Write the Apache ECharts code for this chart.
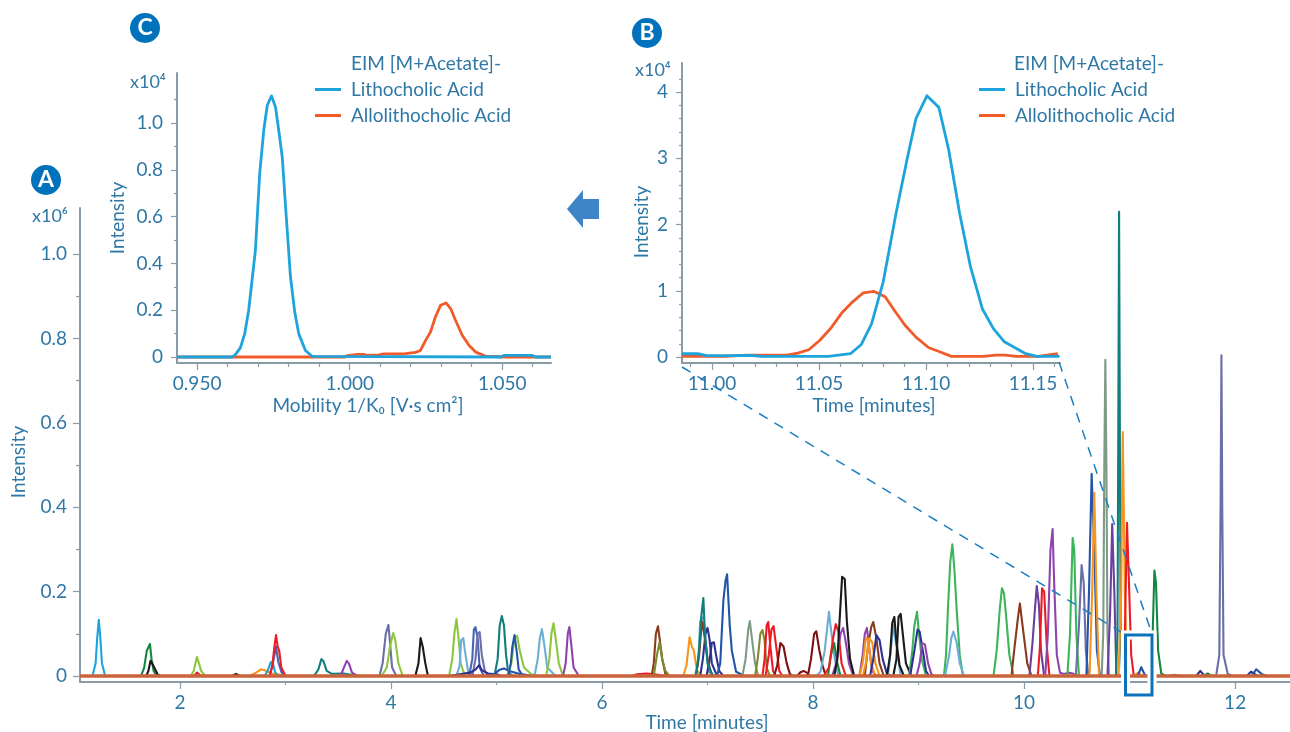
<!DOCTYPE html>
<html><head><meta charset="utf-8">
<style>html,body{margin:0;padding:0;background:#fff}#c{width:1290px;height:732px}</style>
<script src="https://cdn.jsdelivr.net/npm/echarts@6/dist/echarts.min.js"></script>
</head><body><div id="c"></div>
<script>
// ---------- colours ----------
const LBLUE='#6baed6',LIME='#8cc63f',TEAL='#0f7f7b',NAVY='#2e3192',BLUE='#2255aa',MBLUE='#4a62b4',SLATE='#6a6fa8',
PURPLE='#8e44ad',PURP2='#6a3fa0',DGREEN='#13873f',GREEN='#3cb55a',RED='#ed1c24',DRED='#7b1113',BROWN='#8b3a1e',
OLIVE='#7d8a2e',ORANGE='#f7941d',GGREEN='#7f9a85',BLACK='#1a1a1a',SKY='#1ea4dc';

// ---------- panel A: chromatogram peaks, [minutes, intensity x10^6] ----------
const p01=[[1.17,0],[1.20,.03],[1.215,.09],[1.23,.133],[1.245,.09],[1.26,.03],[1.29,0]];
const p02=[[1.63,0],[1.66,.02],[1.685,.06],[1.70,.064],[1.715,.076],[1.73,.04],[1.75,.012],[1.78,0]];
const p03=[[1.68,0],[1.70,.012],[1.72,.036],[1.74,.028],[1.76,.018],[1.79,.003],[1.82,0]];
const p04=[[2.10,0],[2.13,.012],[2.16,.045],[2.18,.03],[2.20,.012],[2.24,0]];
const p05=[[2.13,0],[2.16,.008],[2.2,0]];
const p06=[[2.49,0],[2.53,.005],[2.57,0]];
const p07=[[2.66,0],[2.72,.008],[2.77,.016],[2.82,.012],[2.87,.006],[2.95,.003],[3.0,0]];
const p08=[[2.80,0],[2.83,.012],[2.86,.033],[2.88,.03],[2.90,.01],[2.93,0]];
const p09=[[2.85,0],[2.88,.03],[2.91,.07],[2.93,.035],[2.96,.01],[2.99,0]];
const p10=[[2.85,0],[2.875,.025],[2.895,.07],[2.91,.097],[2.925,.07],[2.94,.06],[2.96,.02],[3,0]];
const p11=[[3.27,0],[3.31,.015],[3.34,.04],[3.36,.035],[3.39,.012],[3.44,.005],[3.55,.006],[3.65,.002],[3.7,0]];
const p12=[[3.52,0],[3.55,.018],[3.58,.036],[3.60,.03],[3.63,.008],[3.68,0]];
const p13=[[3.89,0],[3.92,.03],[3.95,.1],[3.975,.121],[3.99,.08],[4.01,.02],[4.05,0]];
const p14=[[3.91,0],[3.96,.02],[3.99,.07],[4.02,.102],[4.04,.085],[4.07,.03],[4.11,0]];
const p15=[[4.23,0],[4.26,.03],[4.28,.09],[4.30,.07],[4.325,.03],[4.35,0]];
const p16=[[4.55,0],[4.58,.04],[4.60,.1],[4.62,.135],[4.64,.09],[4.66,.03],[4.70,0]];
const p17=[[4.62,0],[4.65,.025],[4.665,.085],[4.685,.09],[4.70,.06],[4.73,.012],[4.78,0]];
const p18=[[4.74,0],[4.77,.04],[4.785,.11],[4.80,.116],[4.82,.09],[4.84,.02],[4.88,0]];
const p19=[[4.77,0],[4.80,.04],[4.82,.1],[4.84,.104],[4.86,.05],[4.89,.01],[4.93,0]];
const p20=[[4.55,0],[4.65,.004],[4.75,.008],[4.80,.015],[4.835,.026],[4.86,.014],[4.92,.006],[5.0,.004],[5.05,0]];
const p21=[[4.98,0],[5.01,.04],[5.03,.12],[5.05,.142],[5.07,.12],[5.09,.05],[5.11,.01],[5.15,0]];
const p22=[[4.9,0],[4.98,.005],[5.03,.015],[5.07,.018],[5.12,.012],[5.22,.005],[5.35,0]];
const p23=[[5.1,0],[5.14,.03],[5.17,.09],[5.195,.095],[5.22,.06],[5.26,.02],[5.33,.004],[5.38,0]];
const p24=[[5.11,0],[5.135,.03],[5.15,.07],[5.17,.097],[5.19,.06],[5.21,.015],[5.25,0]];
const p25=[[5.36,0],[5.39,.04],[5.41,.09],[5.43,.111],[5.455,.07],[5.48,.02],[5.56,0]];
const p26=[[5.47,0],[5.50,.04],[5.52,.1],[5.54,.125],[5.56,.09],[5.59,.03],[5.63,0]];
const p27=[[5.63,0],[5.655,.03],[5.675,.1],[5.69,.116],[5.71,.07],[5.73,.02],[5.78,0]];
const p28=[[6.28,0],[6.33,.004],[6.42,.006],[6.5,.004],[6.6,0]];
const p29=[[6.47,0],[6.49,.03],[6.51,.1],[6.53,.118],[6.55,.08],[6.57,.04],[6.6,.005],[6.63,0]];
const p30=[[6.49,0],[6.52,.05],[6.545,.08],[6.57,.04],[6.6,.012],[6.64,0]];
const p31=[[6.77,0],[6.80,.025],[6.83,.092],[6.85,.07],[6.87,.06],[6.90,.012],[6.95,0]];
const p32=[[6.88,0],[6.91,.03],[6.93,.13],[6.96,.14],[6.98,.08],[7.01,.01],[7.05,0]];
const p33=[[6.93,0],[6.955,.04],[6.98,.1],[7.0,.114],[7.02,.085],[7.04,.03],[7.09,0]];
const p34=[[6.99,0],[7.02,.04],[7.04,.078],[7.06,.08],[7.08,.05],[7.11,.012],[7.15,0]];
const p35=[[6.89,0],[6.92,.05],[6.94,.11],[6.95,.128],[6.98,.08],[7.0,.04],[7.03,.01],[7.06,0]];
const p36=[[6.89,0],[6.92,.06],[6.94,.14],[6.96,.185],[6.975,.1],[7.0,.03],[7.05,0]];
const p37=[[7.09,0],[7.12,.03],[7.15,.18],[7.17,.225],[7.185,.241],[7.21,.12],[7.23,.06],[7.27,.01],[7.35,0]];
const p38=[[7.33,0],[7.36,.04],[7.385,.11],[7.40,.13],[7.42,.09],[7.45,.03],[7.48,0]];
const p39=[[7.45,0],[7.475,.04],[7.50,.1],[7.52,.109],[7.54,.085],[7.56,.02],[7.59,0]];
const p40=[[7.52,0],[7.54,.04],[7.56,.12],[7.575,.128],[7.595,.07],[7.62,.012],[7.65,0]];
const p41=[[7.55,0],[7.58,.05],[7.605,.11],[7.625,.118],[7.65,.07],[7.68,.012],[7.71,0]];
const p42=[[7.63,0],[7.66,.025],[7.69,.078],[7.72,.07],[7.75,.03],[7.78,.005],[7.81,0]];
const p43=[[7.85,0],[7.88,.009],[7.91,.012],[7.94,.008],[7.97,0]];
const p44=[[7.95,0],[7.98,.04],[8.01,.1],[8.03,.106],[8.06,.06],[8.09,.025],[8.12,0]];
const p45=[[8.03,0],[8.07,.01],[8.11,.06],[8.13,.105],[8.15,.152],[8.17,.11],[8.2,.05],[8.23,.008],[8.26,0]];
const p46=[[8.14,0],[8.17,.05],[8.2,.078],[8.23,.03],[8.26,0]];
const p47=[[8.1,0],[8.15,.02],[8.19,.09],[8.215,.123],[8.24,.105],[8.27,.03],[8.31,0]];
const p48=[[8.18,0],[8.22,.03],[8.26,.1],[8.285,.114],[8.31,.08],[8.34,.03],[8.38,0]];
const p49=[[8.2,0],[8.23,.04],[8.26,.17],[8.275,.235],[8.3,.23],[8.32,.13],[8.35,.04],[8.39,0]];
const p50=[[8.44,0],[8.47,.05],[8.49,.1],[8.51,.114],[8.53,.07],[8.56,.012],[8.6,0]];
const p51=[[8.49,0],[8.52,.07],[8.55,.115],[8.57,.128],[8.6,.09],[8.63,.03],[8.67,0]];
const p52=[[8.44,0],[8.47,.03],[8.5,.09],[8.52,.085],[8.55,.03],[8.59,0]];
const p53=[[8.47,0],[8.5,.03],[8.53,.09],[8.56,.08],[8.59,.03],[8.63,0]];
const p54=[[8.54,0],[8.57,.04],[8.6,.097],[8.63,.085],[8.66,.04],[8.7,.005],[8.74,0]];
const p55=[[8.71,0],[8.74,.07],[8.76,.12],[8.79,.07],[8.83,0]];
const p56=[[8.7,0],[8.73,.05],[8.75,.125],[8.77,.14],[8.79,.08],[8.82,.025],[8.86,0]];
const p57=[[8.76,0],[8.79,.04],[8.81,.14],[8.83,.147],[8.85,.1],[8.88,.03],[8.93,0]];
const p58=[[8.91,0],[8.94,.06],[8.96,.12],[8.985,.152],[9.0,.11],[9.03,.04],[9.07,0]];
const p59=[[8.92,0],[8.96,.06],[8.99,.11],[9.01,.105],[9.04,.06],[9.07,.012],[9.1,0]];
const p60=[[8.98,0],[9.01,.03],[9.035,.078],[9.06,.075],[9.09,.03],[9.12,.005],[9.15,0]];
const p61=[[9.24,0],[9.26,.05],[9.28,.17],[9.30,.27],[9.32,.312],[9.34,.25],[9.36,.16],[9.39,.05],[9.42,0]];
const p62=[[9.25,0],[9.29,.05],[9.31,.09],[9.33,.105],[9.36,.08],[9.39,.03],[9.43,0]];
const p63=[[9.71,0],[9.74,.06],[9.77,.16],[9.79,.208],[9.81,.195],[9.83,.14],[9.86,.05],[9.9,0]];
const p64=[[9.88,0],[9.91,.07],[9.94,.135],[9.96,.172],[9.98,.13],[10.0,.09],[10.03,.03],[10.07,0]];
const p65=[[10.05,0],[10.08,.08],[10.10,.15],[10.12,.213],[10.14,.17],[10.16,.06],[10.19,0]];
const p66=[[10.13,0],[10.15,.07],[10.17,.208],[10.19,.2],[10.215,.07],[10.24,0]];
const p67=[[10.2,0],[10.225,.1],[10.25,.3],[10.27,.348],[10.285,.22],[10.31,.05],[10.34,.008],[10.38,.005],[10.42,.008],[10.46,.006],[10.5,0]];
const p68=[[10.41,0],[10.435,.1],[10.46,.327],[10.475,.3],[10.495,.1],[10.52,0]];
const p69=[[10.49,0],[10.52,.12],[10.545,.263],[10.565,.22],[10.585,.06],[10.61,0]];
const p70=[[10.59,0],[10.615,.2],[10.64,.479],[10.665,.3],[10.69,.06],[10.72,0]];
const p71=[[10.62,0],[10.645,.2],[10.665,.434],[10.685,.2],[10.71,0]];
const p72=[[10.735,0],[10.75,.1],[10.76,.5],[10.77,.749],[10.78,.5],[10.79,.1],[10.805,0]];
const p73=[[10.79,0],[10.815,.15],[10.835,.36],[10.855,.2],[10.875,0]];
const p74=[[10.87,0],[10.885,.1],[10.893,.6],[10.90,1.1],[10.907,.6],[10.915,.1],[10.93,0]];
const p75=[[10.895,0],[10.92,.2],[10.935,.578],[10.955,.2],[10.975,0]];
const p76=[[10.93,0],[10.955,.1],[10.975,.363],[10.99,.25],[11.015,.05],[11.04,0]];
const p77=[[11.04,0],[11.08,.008],[11.12,0]];
const p78=[[11.07,0],[11.09,.008],[11.11,.021],[11.13,.01],[11.15,0]];
const p79=[[11.19,0],[11.215,.07],[11.235,.25],[11.25,.22],[11.27,.06],[11.3,.006],[11.34,0]];
const p80=[[11.36,0],[11.42,.003],[11.5,0]];
const p81=[[11.63,0],[11.67,.012],[11.71,0]];
const p82=[[11.7,0],[11.74,.006],[11.78,0]];
const p83=[[11.82,0],[11.85,.05],[11.862,.4],[11.87,.76],[11.878,.4],[11.89,.05],[11.93,.005],[11.98,0]];
const p84=[[12.11,0],[12.15,.01],[12.18,.006],[12.21,0]];
const p85=[[12.16,0],[12.2,.016],[12.25,.005],[12.3,0]];
const baseline=[[1.052,0],[12.52,0]];

const peaksA=[[p01,SKY],[p02,DGREEN],[p03,BLACK],[p04,LIME],[p05,RED],[p06,BLACK],[p07,ORANGE],[p08,SKY],[p09,MBLUE],[p10,RED],
[p11,TEAL],[p12,PURPLE],[p13,SLATE],[p14,LIME],[p15,BLACK],[p16,LIME],[p17,LBLUE],[p18,MBLUE],[p19,SLATE],[p20,NAVY],
[p21,TEAL],[p22,BLUE],[p23,LIME],[p24,BLUE],[p25,LBLUE],[p26,LIME],[p27,PURPLE],[p28,RED],[p29,BROWN],[p30,OLIVE],
[p31,ORANGE],[p32,LBLUE],[p33,NAVY],[p34,NAVY],[p35,BROWN],[p36,TEAL],[p37,BLUE],[p38,GGREEN],[p39,OLIVE],[p40,RED],
[p41,RED],[p42,DRED],[p43,DRED],[p44,DRED],[p45,LBLUE],[p46,DGREEN],[p47,RED],[p48,PURPLE],[p49,BLACK],[p50,PURPLE],
[p51,BROWN],[p52,ORANGE],[p53,ORANGE],[p54,NAVY],[p55,LBLUE],[p56,BLACK],[p57,BLACK],[p58,GREEN],[p59,NAVY],[p60,PURPLE],
[p61,GREEN],[p62,LBLUE],[p63,GREEN],[p64,BROWN],[p65,PURP2],[p66,RED],[p67,PURPLE],[p68,GREEN],[p69,SLATE],[p70,BLUE],
[p71,ORANGE],[p72,GGREEN],[p73,PURP2],[p74,TEAL],[p75,ORANGE],[p76,RED],[p77,ORANGE],[p78,BLUE],[p79,DGREEN],[p80,GGREEN],
[p81,NAVY],[p82,DGREEN],[p83,SLATE],[p84,NAVY],[p85,BLUE]];

// ---------- panel B: EIM traces, [minutes, intensity x10^4] ----------
const bLitho=[[10.986,.05],[10.9934,.05],[10.9976,.02],[11.0078,.02],[11.018,.025],[11.0231,.01],[11.0384,.01],[11.0545,.01],[11.0647,.05],[11.0698,.19],[11.0746,.504],[11.08,1.135],[11.086,2.17],[11.0911,2.98],[11.0953,3.6],[11.1004,3.945],[11.106,3.77],[11.1106,3.13],[11.1157,2.17],[11.1208,1.36],[11.1263,.73],[11.1315,.43],[11.1366,.23],[11.1466,.05],[11.1519,.01],[11.1624,.01]];
const bAllo=[[10.986,.01],[11.0061,.01],[11.0163,.03],[11.035,.03],[11.0401,.06],[11.0452,.11],[11.0503,.25],[11.0554,.43],[11.0605,.66],[11.0656,.83],[11.0707,.97],[11.0758,.99],[11.0809,.91],[11.0851,.71],[11.0902,.48],[11.0953,.30],[11.1013,.14],[11.1064,.08],[11.1118,.01],[11.1268,.01],[11.1327,.03],[11.137,.03],[11.1421,.01],[11.1523,.01],[11.1616,.05]];

// ---------- panel C: mobilograms, [1/K0, intensity x10^4] ----------
const cLitho=[[.9434,0],[.9615,0],[.9626,.011],[.9642,.04],[.9656,.1],[.9669,.2],[.968,.328],[.9691,.456],[.9705,.783],[.9719,.976],[.973,1.076],[.9744,1.116],[.9757,1.068],[.9766,.983],[.9779,.855],[.979,.641],[.9806,.342],[.982,.192],[.9833,.1],[.9855,.028],[.9877,.003],[1.0495,0],[1.0505,.007],[1.0598,.007],[1.0609,0],[1.066,0]];
const cAllo=[[.9434,0],[.9985,0],[.9992,.006],[1.0025,.011],[1.0046,.011],[1.0057,.007],[1.0096,.009],[1.0112,.013],[1.0183,.014],[1.0216,.02],[1.0232,.028],[1.0249,.071],[1.0265,.107],[1.0281,.171],[1.0298,.221],[1.0316,.231],[1.0331,.207],[1.0347,.157],[1.0369,.093],[1.0391,.05],[1.0413,.021],[1.0445,.004],[1.0505,0],[1.066,0]];

// ---------- ticks ----------
const aXMajor=[2,4,6,8,10,12], aXMinor=[3,5,7,9,11];
const aYMajor=[0,.2,.4,.6,.8,1.0], aYMinor=[.1,.3,.5,.7,.9];
const bXMajor=[11,11.05,11.1,11.15], bXMinor=[10.99,11.01,11.02,11.03,11.04,11.06,11.07,11.08,11.09,11.11,11.12,11.13,11.14,11.16];
const bYMajor=[0,1,2,3,4], bYMinor=[.2,.4,.6,.8,1.2,1.4,1.6,1.8,2.2,2.4,2.6,2.8,3.2,3.4,3.6,3.8,4.2];
const cXMajor=[.95,1.0,1.05], cXMinor=[.96,.97,.98,.99,1.01,1.02,1.03,1.04,1.06];
const cYMajor=[0,.2,.4,.6,.8,1.0], cYMinor=[.1,.3,.5,.7,.9,1.1];
const legendNames=['Lithocholic Acid','Allolithocholic Acid'];

// ---------- styling ----------
const FONT='Lato', TXT='#2f78a6', AXC='#8a9ba8', FS=19;
const C_LITHO='#1ea4dc', C_ALLO='#f15a29';

function axis(kind,grid,min,max,vals,len,opts){
  const o=opts||{}, major=!o.minor;
  return Object.assign({type:'value',gridIndex:grid,min,max,position:kind==='x'?'bottom':'left',
    splitLine:{show:false},
    axisLine:{show:major,onZero:false,lineStyle:{color:AXC,width:2}},
    axisTick:{show:true,customValues:vals,length:len,inside:false,lineStyle:{color:AXC,width:1.2}},
    axisLabel:major?{show:true,customValues:vals,formatter:o.fmt,color:TXT,fontFamily:FONT,fontSize:FS,margin:o.margin,hideOverlap:false}:{show:false},
    nameLocation:'middle',nameGap:o.gap,name:major?o.name:'',nameRotate:kind==='y'?90:0,nameMoveOverlap:false,
    nameTextStyle:{color:TXT,fontFamily:FONT,fontSize:o.nfs||FS,padding:o.pad||0},
    silent:true});
}
const f0=v=>String(Math.round(v)), f1=v=>v===0?'0':v.toFixed(1), f2=v=>v.toFixed(2), f3=v=>v.toFixed(3);

const xAxis=[
 axis('x',0,1.052,12.52,aXMajor,7,{fmt:f0,margin:11,name:'Time [minutes]',gap:31,pad:[0,0,0,44]}),
 axis('x',0,1.052,12.52,aXMinor,3,{minor:true}),
 axis('x',1,10.986,11.1626,bXMajor,7,{fmt:f2,margin:11,name:'Time [minutes]',gap:33,pad:[0,0,0,6]}),
 axis('x',1,10.986,11.1626,bXMinor,4,{minor:true}),
 axis('x',2,.9434,1.066,cXMajor,7,{fmt:f3,margin:11,name:'Mobility 1/K₀ [V·s cm²]',gap:33,pad:[0,0,0,8]}),
 axis('x',2,.9434,1.066,cXMinor,4,{minor:true})];
const yAxis=[
 axis('y',0,-.0142,1.109,aYMajor,7,{fmt:f1,margin:13,name:'Intensity',gap:52,pad:[0,34,0,0]}),
 axis('y',0,-.0142,1.109,aYMinor,4,{minor:true}),
 axis('y',1,-.09,4.44,bYMajor,6,{fmt:f0,margin:14,name:'Intensity',gap:31,pad:[0,18,0,0]}),
 axis('y',1,-.09,4.44,bYMinor,3,{minor:true}),
 axis('y',2,-.0256,1.214,cYMajor,6,{fmt:f1,margin:14,name:'Intensity',gap:50}),
 axis('y',2,-.0256,1.214,cYMinor,3,{minor:true})];

const grid=[
 {left:80,top:208,width:1210,height:474,outerBoundsMode:'none'},
 {left:682,top:63,width:378,height:300,outerBoundsMode:'none'},
 {left:177,top:73,width:374,height:290,outerBoundsMode:'none'}];

const line=(name,data,color,w,xi,yi)=>({type:'line',name,data,xAxisIndex:xi,yAxisIndex:yi,showSymbol:false,symbol:'none',
  smooth:false,animation:false,silent:true,color,lineStyle:{color,width:w,join:'round'}});

const series=[
 ...peaksA.map(([d,c],i)=>line('peak'+(i+1),d,c,2.1,0,0)),
 line('baseline',baseline,'#c8633a',3.5,0,0),
 line(legendNames[1],bAllo,C_ALLO,2.8,2,2),
 line(legendNames[0],bLitho,C_LITHO,2.8,2,2),
 line(legendNames[1],cAllo,C_ALLO,2.8,4,4),
 line(legendNames[0],cLitho,C_LITHO,2.8,4,4)];

const legendOf=(left,top)=>({show:true,data:legendNames,orient:'vertical',left,top,icon:'rect',itemWidth:26,itemHeight:3,itemGap:7,
  selectedMode:false,padding:0,textStyle:{color:TXT,fontFamily:FONT,fontSize:FS,padding:[0,0,0,5]}});

const txt=(x,y,text,extra)=>({type:'text',x,y,z:60,style:Object.assign({text,fill:TXT,font:FS+'px '+FONT,textAlign:'left',textVerticalAlign:'middle'},extra||{})});
const badge=(x,y,letter)=>[
 {type:'circle',shape:{cx:x,cy:y,r:15},z:60,style:{fill:'#0072bc'}},
 {type:'text',x,y,z:61,style:{text:letter,fill:'#fff',font:'bold 23px '+FONT,textAlign:'center',textVerticalAlign:'middle'}}];
const DASH='#1a7fc1';
const graphic=[
 {type:'line',shape:{x1:682,y1:367,x2:1126,y2:635},z:50,style:{stroke:DASH,lineWidth:1.5,lineDash:[10,8]}},
 {type:'line',shape:{x1:1059,y1:362,x2:1152,y2:634},z:50,style:{stroke:DASH,lineWidth:1.5,lineDash:[10,8]}},
 {type:'rect',shape:{x:1125.5,y:635,width:26.5,height:60},z:51,style:{fill:'transparent',stroke:'#fff',lineWidth:9}},
 {type:'rect',shape:{x:1125.5,y:635,width:26.5,height:60},z:52,style:{fill:'transparent',stroke:'#0d72b9',lineWidth:3}},
 {type:'polygon',shape:{points:[[567,209],[583,190],[583,199],[599,199],[599,219],[583,219],[583,228]]},z:50,style:{fill:'#3d85c6'}},
 ...badge(46,180,'A'),...badge(647,33,'B'),...badge(145,28,'C'),
 txt(32,216,'x10⁶',{font:'18px '+FONT}),
 txt(635,70,'x10⁴',{font:'18px '+FONT}),
 txt(130,82,'x10⁴',{font:'18px '+FONT}),
 txt(351,64,'EIM [M+Acetate]-'),
 txt(1014,64,'EIM [M+Acetate]-')];

const chart=echarts.init(document.getElementById('c'),null,{renderer:'canvas'});
chart.setOption({animation:false,backgroundColor:'#fff',grid,xAxis,yAxis,series,
  legend:[legendOf(315,80),legendOf(979,80)],graphic:{elements:graphic}});
</script></body></html>
